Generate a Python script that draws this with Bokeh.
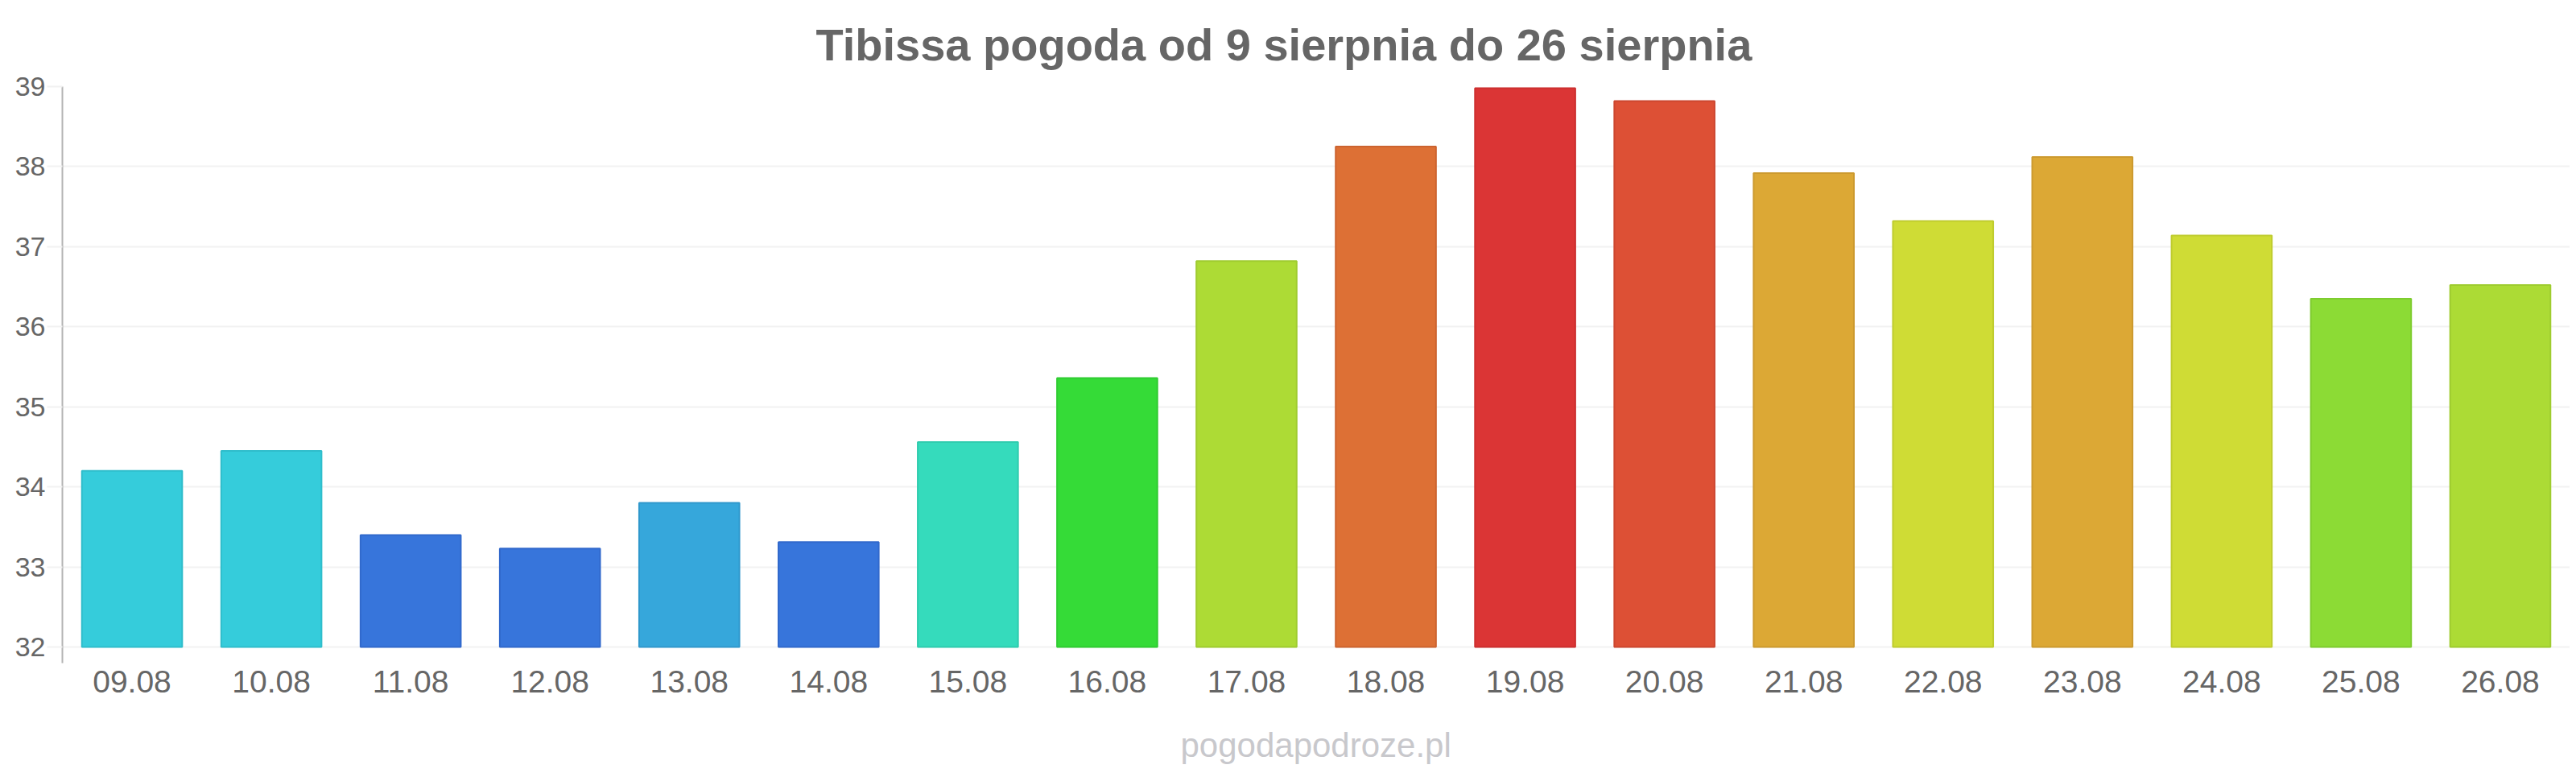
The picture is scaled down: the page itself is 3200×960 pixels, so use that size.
from bokeh.plotting import figure
from bokeh.models import Title, FixedTicker, Range1d
from bokeh.embed import file_html
from bokeh.resources import INLINE

# ---- data ----
dates = ["09.08", "10.08", "11.08", "12.08", "13.08", "14.08", "15.08", "16.08", "17.08",
         "18.08", "19.08", "20.08", "21.08", "22.08", "23.08", "24.08", "25.08", "26.08"]
temps = [34.2, 34.45, 33.4, 33.23, 33.8, 33.31, 34.56, 35.36, 36.82,
         38.25, 38.98, 38.82, 37.92, 37.32, 38.12, 37.14, 36.35, 36.52]
colors = ["#35CCDB", "#35CCDB", "#3775DB", "#3775DB", "#36A7DB", "#3775DB", "#35DBBC", "#35DB37", "#ADDB35",
          "#DD7035", "#DB3535", "#DD5035", "#DCA835", "#CFDC35", "#DCA835", "#CFDC35", "#8CDB35", "#ACDB35"]
edges = ["#2FBDCB", "#2FBDCB", "#3169CC", "#3169CC", "#3098CC", "#3169CC", "#2FCCAE", "#2FCC31", "#9FCC2F",
         "#CC632F", "#CC2F2F", "#CC462F", "#CC9A2F", "#BFCC2F", "#CC9A2F", "#BFCC2F", "#7ECC2F", "#9ECC2F"]
y_ticks = [32, 33, 34, 35, 36, 37, 38, 39]
title_text = "Tibissa pogoda od 9 sierpnia do 26 sierpnia"
footer_text = "pogodapodroze.pl"

FONT = "Liberation Sans"

p = figure(x_range=dates, y_range=Range1d(31.8, 39), width=3192, height=960,
           output_backend="svg", toolbar_location=None,
           min_border_left=77, min_border_right=0, min_border_top=107, min_border_bottom=137)
p.outline_line_color = None
p.background_fill_color = "white"
p.border_fill_color = "white"

p.vbar(x=dates, top=temps, bottom=32, width=0.72, fill_color=colors, line_color=edges, line_width=2)

# y axis
yax = p.yaxis[0]
yax.ticker = FixedTicker(ticks=y_ticks)
yax.axis_line_color = "#b4b4b4"
yax.axis_line_width = 2
yax.major_tick_line_color = "#f2f2f2"
yax.major_tick_line_width = 2
yax.major_tick_out = 19
yax.major_tick_in = 0
yax.minor_tick_line_color = None
yax.major_label_text_font = FONT
yax.major_label_text_font_size = "34px"
yax.major_label_text_color = "#666666"
yax.major_label_standoff = 2

# x axis
xax = p.xaxis[0]
xax.axis_line_color = None
xax.major_tick_line_color = None
xax.minor_tick_line_color = None
xax.major_label_text_font = FONT
xax.major_label_text_font_size = "39px"
xax.major_label_text_color = "#666666"
xax.major_label_standoff = 3

p.xgrid.grid_line_color = None
p.ygrid.ticker = FixedTicker(ticks=y_ticks)
p.ygrid.grid_line_color = "#f2f2f2"
p.ygrid.grid_line_width = 2

title = Title(text=title_text, align="left", offset=936, standoff=42,
              text_font=FONT, text_font_style="bold", text_font_size="56px", text_color="#666666")
p.add_layout(title, "above")

spacer = Title(text=" ", align="left", standoff=31, text_font=FONT,
               text_font_size="2px", text_color="#ffffff")
p.add_layout(spacer, "below")

footer = Title(text=footer_text, align="left", offset=1389, standoff=4,
               text_font=FONT, text_font_style="normal", text_font_size="42px", text_color="#c8c8cc")
p.add_layout(footer, "below")

open("out.html", "w").write(file_html(p, INLINE))
